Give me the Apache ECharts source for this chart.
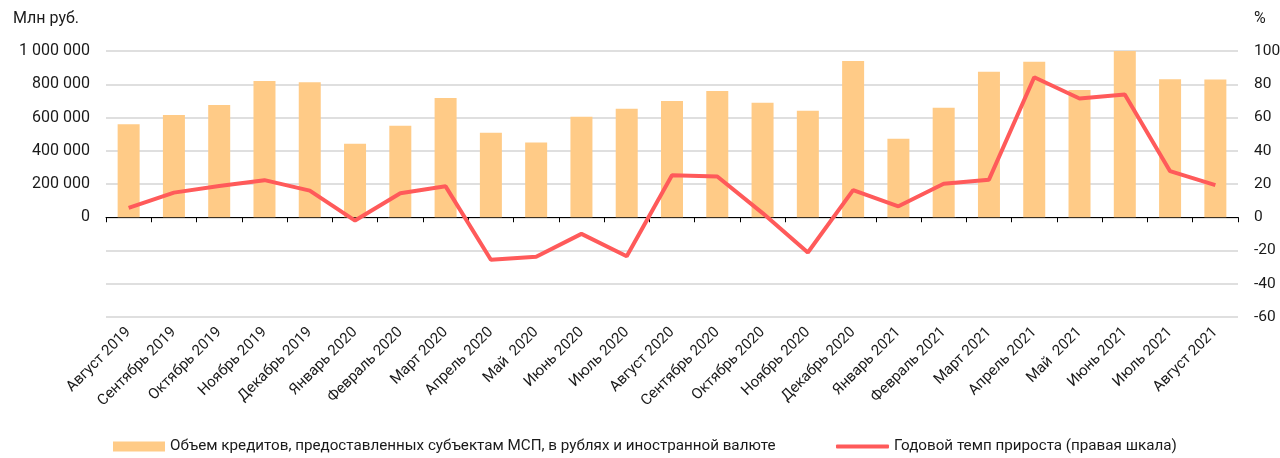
<!DOCTYPE html>
<html>
<head>
<meta charset="utf-8">
<script src="https://cdn.jsdelivr.net/npm/echarts@6/dist/echarts.min.js"></script>
<style>
  html, body { margin: 0; padding: 0; background: #fff; }
  #chart { width: 1280px; height: 458px; }
</style>
</head>
<body>
<div id="chart"></div>
<script>
// months
var months = ['Август 2019', 'Сентябрь 2019', 'Октябрь 2019', 'Ноябрь 2019', 'Декабрь 2019',
  'Январь 2020', 'Февраль 2020', 'Март 2020', 'Апрель 2020', 'Май  2020', 'Июнь 2020',
  'Июль 2020', 'Август 2020', 'Сентябрь 2020', 'Октябрь 2020', 'Ноябрь 2020', 'Декабрь 2020',
  'Январь 2021', 'Февраль 2021', 'Март 2021', 'Апрель 2021', 'Май  2021', 'Июнь 2021',
  'Июль 2021', 'Август 2021']

// объем кредитов, млн руб.
var loans = [560000, 615000, 675000, 820000, 812000, 442000, 550000, 718000, 508000, 450000,
  605000, 652000, 700000, 760000, 688000, 640000, 940000, 472000, 658000, 875000,
  935000, 766000, 1000000, 830000, 828000]

// годовой темп прироста, %
var growth = [5.6, 14.8, 18.8, 22.3, 16, -2, 14.4, 18.6, -25.6, -23.8,
  -10, -23.5, 25.3, 24.5, 2.5, -21.2, 16.3, 6.6, 20.2, 22.6,
  84.2, 71.4, 73.8, 27.7, 19.3]

var barName = 'Объем кредитов, предоставленных субъектам МСП, в рублях и иностранной валюте'
var lineName = 'Годовой темп прироста (правая шкала)'

var chart = echarts.init(document.getElementById('chart'))

function fmtThousands(v) {
  if (v < 0) return ''
  return String(v).replace(/\B(?=(\d{3})+(?!\d))/g, ' ')
}

chart.setOption({
  animation: false,
  textStyle: { fontFamily: 'Roboto, sans-serif' },
  grid: { left: 106, right: 42, top: 51, bottom: 141, containLabel: false, outerBoundsMode: 'none' },
  graphic: [
    { type: 'text', left: 13, top: 11, style: { text: 'Млн руб.', font: '16px Roboto', fill: '#1a1a1a' } },
    { type: 'text', left: 1254, top: 11, style: { text: '%', font: '16px Roboto', fill: '#1a1a1a' } }
  ],
  legend: [{
    data: [barName],
    left: 108,
    top: 434,
    itemWidth: 52,
    itemHeight: 10,
    itemGap: 5,
    icon: 'rect',
    textStyle: { fontSize: 15.2, color: '#1a1a1a', fontFamily: 'Roboto' }
  }, {
    data: [lineName],
    left: 831,
    top: 434,
    itemWidth: 53,
    itemHeight: 4,
    icon: 'roundRect',
    textStyle: { fontSize: 15.2, color: '#1a1a1a', fontFamily: 'Roboto' }
  }],
  xAxis: {
    type: 'category',
    data: months,
    axisLine: { onZero: true, lineStyle: { color: '#000', width: 1 } },
    axisTick: { show: true, length: 5, lineStyle: { color: '#000' } },
    axisLabel: {
      rotate: 45,
      interval: 0,
      margin: 13,
      fontSize: 15,
      color: '#1a1a1a'
    }
  },
  yAxis: [{
    type: 'value',
    min: -600000,
    max: 1000000,
    interval: 200000,
    axisLine: { show: false },
    axisTick: { show: false },
    splitLine: { show: true, lineStyle: { color: '#d4d4d4', width: 1.5 } },
    axisLabel: {
      margin: 16,
      fontSize: 16,
      color: '#1a1a1a',
      formatter: fmtThousands
    }
  }, {
    type: 'value',
    min: -60,
    max: 100,
    interval: 20,
    axisLine: { show: false },
    axisTick: { show: false },
    splitLine: { show: false },
    axisLabel: {
      margin: 16,
      fontSize: 15.5,
      color: '#1a1a1a'
    }
  }],
  series: [{
    name: barName,
    type: 'bar',
    data: loans,
    barWidth: 22,
    itemStyle: { color: '#FFCB87' }
  }, {
    name: lineName,
    type: 'line',
    yAxisIndex: 1,
    data: growth,
    symbol: 'none',
    lineStyle: { color: '#FF5A5A', width: 4 },
    itemStyle: { color: '#FF5A5A' },
    z: 5
  }]
})
</script>
</body>
</html>
